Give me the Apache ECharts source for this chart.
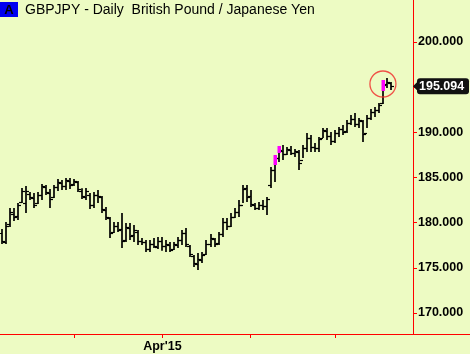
<!DOCTYPE html>
<html><head><meta charset="utf-8">
<script src="https://cdn.jsdelivr.net/npm/echarts@6/dist/echarts.min.js"></script>
<style>html,body{margin:0;padding:0;background:#EDFBC3}#c{width:470px;height:354px}</style>
</head><body><div id="c"></div>
<script>
const dates = [
"2015-02-04","2015-02-05","2015-02-06","2015-02-09","2015-02-10","2015-02-11","2015-02-12","2015-02-13","2015-02-16","2015-02-17",
"2015-02-18","2015-02-19","2015-02-20","2015-02-23","2015-02-24","2015-02-25","2015-02-26","2015-02-27",
"2015-03-02","2015-03-03","2015-03-04","2015-03-05","2015-03-06","2015-03-09","2015-03-10","2015-03-11","2015-03-12","2015-03-13",
"2015-03-16","2015-03-17","2015-03-18","2015-03-19","2015-03-20","2015-03-23","2015-03-24","2015-03-25","2015-03-26","2015-03-27",
"2015-03-30","2015-03-31",
"2015-04-01","2015-04-02","2015-04-03","2015-04-06","2015-04-07","2015-04-08","2015-04-09","2015-04-10","2015-04-13","2015-04-14",
"2015-04-15","2015-04-16","2015-04-17","2015-04-20","2015-04-21","2015-04-22","2015-04-23","2015-04-24","2015-04-27","2015-04-28",
"2015-04-29","2015-04-30",
"2015-05-01","2015-05-04","2015-05-05","2015-05-06","2015-05-07","2015-05-08","2015-05-11","2015-05-12","2015-05-13","2015-05-14",
"2015-05-15","2015-05-18","2015-05-19","2015-05-20","2015-05-21","2015-05-22","2015-05-25","2015-05-26","2015-05-27","2015-05-28",
"2015-05-29",
"2015-06-01","2015-06-02","2015-06-03","2015-06-04","2015-06-05","2015-06-08","2015-06-09","2015-06-10","2015-06-11","2015-06-12",
"2015-06-15","2015-06-16","2015-06-17","2015-06-18","2015-06-19",
"2015-06-22","2015-06-23","2015-06-24","2015-06-25","2015-06-26"
];
const opens = [
178.8,177.9,179.8,181.0,180.7,182.3,182.2,183.2,182.7,182.2,
183.0,183.9,183.3,182.8,183.9,184.4,184.1,184.6,184.3,184.5,
183.5,182.8,183.1,181.9,183.0,182.8,181.4,180.5,179.0,179.6,
179.3,178.1,179.4,178.6,179.0,178.0,177.8,177.1,177.6,177.3,
178.0,177.4,177.5,177.1,177.5,178.1,178.8,177.4,176.3,175.4,
175.9,176.5,177.6,178.2,177.7,178.7,180.1,179.6,180.6,181.2,
182.0,183.8,182.9,182.0,181.6,182.0,181.8,184.2,185.8,187.2,
187.9,187.6,188.0,187.7,187.8,186.9,188.3,189.4,188.4,188.2,
189.4,190.1,189.6,189.0,189.9,190.3,190.1,191.0,191.5,190.9,
191.2,189.9,191.6,192.2,192.5,193.2,195.3,195.4];
const closes = [
178.0,179.6,181.2,180.6,181.9,183.5,183.5,182.8,182.0,183.0,
184.0,183.4,182.6,183.9,184.5,184.0,184.7,184.2,184.6,183.7,
182.9,183.5,181.9,183.0,182.9,181.5,180.6,178.9,179.6,179.2,
178.0,179.5,178.5,179.2,178.0,177.8,177.1,177.6,177.4,178.0,
177.4,177.6,177.0,177.6,178.1,178.8,177.6,176.5,175.5,176.0,
176.4,177.6,178.3,177.6,178.7,180.1,179.6,180.6,181.2,182.0,
183.7,182.8,182.1,181.6,182.0,181.8,182.6,185.8,187.1,188.0,
187.6,188.1,187.7,187.9,186.6,188.3,189.4,188.4,188.2,189.2,
190.2,189.6,189.0,189.9,190.3,190.0,191.0,191.5,190.9,191.3,
189.8,191.6,192.2,192.5,193.0,195.2,195.5,195.094];
const highs = [
179.29,180.06,181.61,181.61,182.17,183.82,184.05,183.38,183.27,183.38,
184.27,184.16,183.71,184.16,184.82,184.71,184.93,184.93,184.82,184.60,
183.80,183.82,183.27,183.38,183.60,182.94,181.72,180.62,180.06,180.06,
181.06,179.95,179.95,179.73,179.18,178.29,178.07,178.07,178.29,178.40,
178.40,178.07,177.85,177.85,178.40,179.18,179.40,177.52,176.41,176.63,
176.74,178.07,178.74,178.29,178.96,180.50,180.50,181.06,181.61,182.50,
184.16,184.16,183.60,182.17,182.28,182.50,182.83,186.15,187.47,188.47,
188.58,188.36,188.47,188.14,188.03,188.58,189.91,189.69,188.80,189.47,
190.46,190.46,190.02,190.24,190.57,190.79,191.35,191.90,192.12,191.57,
191.35,191.90,192.56,192.78,193.23,195.77,196.00,195.55];
const lows = [
177.63,177.63,179.51,180.17,180.28,182.17,181.06,182.50,181.61,182.06,
182.50,183.05,181.61,182.72,183.49,183.60,183.60,183.71,184.05,183.38,
182.60,182.50,181.50,181.61,182.17,181.06,180.28,178.29,178.85,178.96,
177.19,177.85,178.07,177.85,177.52,177.52,176.74,176.74,177.19,177.08,
176.90,176.74,176.74,176.97,177.19,177.52,177.30,176.19,175.09,174.75,
175.53,176.41,177.30,177.30,177.52,178.40,179.18,179.51,180.50,180.62,
182.17,182.28,181.72,181.39,181.39,181.39,180.84,183.82,184.49,186.70,
186.92,187.47,187.47,187.25,185.82,187.14,187.81,187.81,187.81,187.81,
189.36,189.14,188.58,188.80,189.47,189.69,189.91,190.79,190.57,190.46,
188.91,190.46,191.35,191.68,192.12,193.12,194.89,194.67];
const hlIndex = [68, 69, 95];
const hlTop = [187.47, 188.47, 195.77];
const hlBottom = [186.37, 187.70, 194.56];
const yTicks = [170, 175, 180, 185, 190, 195, 200];
const monthTicks = ["2015-03-02", "2015-04-01", "2015-05-01", "2015-06-01"];
const labelDate = "2015-04-01";
const labelText = "Apr'15";
const lastPrice = 195.094;
const circleAt = [95, 195.33];
const title = "GBPJPY - Daily  British Pound / Japanese Yen";

const ohlc = opens.map((o, i) => [i, o, closes[i], lows[i], highs[i]]);
const hl = hlIndex.map((k, i) => [k, hlTop[i], hlBottom[i]]);

const chart = echarts.init(document.getElementById('c'));
const RED = '#FF0000';
chart.setOption({
  backgroundColor: '#EDFBC3',
  animation: false,
  grid: { left: 0, right: 57, top: 0, bottom: 20 },
  xAxis: {
    type: 'category', data: dates, boundaryGap: true,
    axisLine: { lineStyle: { color: RED, width: 1 } },
    axisTick: { show: true, alignWithLabel: true, length: 4, lineStyle: { color: RED, width: 1 },
      interval: (i, v) => monthTicks.indexOf(v) >= 0 },
    axisLabel: { interval: (i, v) => v === labelDate, formatter: () => labelText,
      color: '#000', fontWeight: 'bold', fontSize: 12.5, fontFamily: 'Liberation Sans', margin: 6 },
    splitLine: { show: false }
  },
  yAxis: {
    type: 'value', position: 'right', min: 167.68, max: 204.62, scale: true,
    axisLine: { show: true, lineStyle: { color: RED } },
    axisTick: { show: true, length: 4, lineStyle: { color: RED }, customValues: yTicks },
    axisLabel: { customValues: yTicks, formatter: v => v.toFixed(3), color: '#000',
      fontWeight: 'bold', fontSize: 12.5, fontFamily: 'Liberation Sans', margin: 5 },
    splitLine: { show: false }
  },
  series: [
    {
      type: 'custom', data: ohlc, clip: false,
      encode: { x: 0, y: [1, 2, 3, 4] },
      renderItem: (params, api) => {
        const k = api.value(0);
        const o = api.coord([k, api.value(1)]);
        const c = api.coord([k, api.value(2)]);
        const l = api.coord([k, api.value(3)]);
        const h = api.coord([k, api.value(4)]);
        const x = Math.round(o[0]);
        const st = { stroke: '#000', lineWidth: 1.7 };
        const st2 = { stroke: '#000', lineWidth: 1.2 };
        return { type: 'group', children: [
          { type: 'line', shape: { x1: x, y1: h[1], x2: x, y2: l[1] }, style: st },
          { type: 'line', shape: { x1: x - 3, y1: Math.round(o[1]) + 0.5, x2: x, y2: Math.round(o[1]) + 0.5 }, style: st2 },
          { type: 'line', shape: { x1: x, y1: Math.round(c[1]) + 0.5, x2: x + 3, y2: Math.round(c[1]) + 0.5 }, style: st2 }
        ]};
      }
    },
    {
      type: 'custom', data: hl, z: 3,
      encode: { x: 0, y: [1, 2] },
      renderItem: (params, api) => {
        const k = api.value(0);
        const t = api.coord([k, api.value(1)]);
        const b = api.coord([k, api.value(2)]);
        const x = Math.round(t[0]);
        return { type: 'rect', shape: { x: x - 1.5, y: t[1], width: 3.5, height: b[1] - t[1] },
          style: { fill: '#FF00FF' } };
      }
    },
    {
      type: 'scatter', data: [circleAt], symbol: 'circle', symbolSize: 26, z: 4,
      itemStyle: { color: 'rgba(0,0,0,0)', borderColor: '#F02828', borderWidth: 1.3 }
    }
  ]
});

const py = chart.convertToPixel({ yAxisIndex: 0 }, lastPrice);
const ax = chart.convertToPixel({ xAxisIndex: 0 }, dates[dates.length - 1]) + 2;
chart.setOption({
  graphic: [
    { type: 'rect', shape: { x: 0, y: 2, width: 18, height: 15 }, style: { fill: '#0000F0' }, z: 100 },
    { type: 'text', x: 9, y: 10, style: { text: 'A', fill: '#000', font: 'bold 13px "Liberation Sans"', textAlign: 'center', textVerticalAlign: 'middle' }, z: 101 },
    { type: 'text', x: 25, y: 10, style: { text: title, fill: '#000', font: '14px "Liberation Sans"', textVerticalAlign: 'middle' }, z: 101 },
    { type: 'line', shape: { x1: ax, y1: 334.5, x2: 470, y2: 334.5 }, style: { stroke: RED, lineWidth: 1 }, z: 100 },
    { type: 'polygon', shape: { points: [[413, py], [418, py - 5], [418, py + 5]] }, style: { fill: '#111' }, z: 100 },
    { type: 'rect', shape: { x: 417, y: py - 8, width: 52, height: 16, r: 3 }, style: { fill: '#111' }, z: 100 },
    { type: 'text', x: 419, y: py + 0.5, style: { text: lastPrice.toFixed(3), fill: '#fff', font: 'bold 12.5px "Liberation Sans"', textVerticalAlign: 'middle' }, z: 101 }
  ]
});
</script></body></html>
